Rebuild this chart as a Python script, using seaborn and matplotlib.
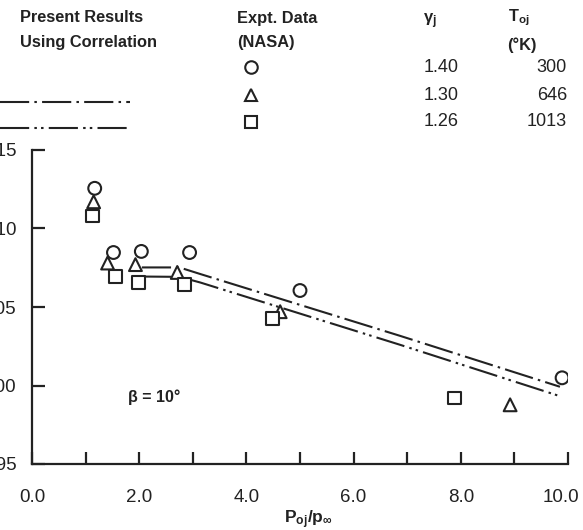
import matplotlib
matplotlib.use("Agg")
import matplotlib.pyplot as plt
from matplotlib.lines import Line2D
from matplotlib.transforms import ScaledTranslation
import seaborn as sns
import pandas as pd

# ---- data ----
circle_x = [1.17, 1.52, 2.04, 2.94, 5.00, 9.89]
circle_y = [1.1256, 1.0847, 1.0854, 1.0847, 1.0605, 1.0049]
tri_x = [1.15, 1.41, 1.93, 2.71, 4.63, 8.92]
tri_y = [1.1170, 1.0780, 1.0770, 1.0720, 1.0470, 0.9877]
sq_x = [1.13, 1.56, 1.99, 2.85, 4.48, 7.88]
sq_y = [1.1080, 1.0694, 1.0656, 1.0643, 1.0426, 0.9921]

upper_x = [2.05, 2.75, 3.14, 6.86, 9.85]
upper_y = [1.0752, 1.0752, 1.0710, 1.0317, 0.9992]
lower_x = [2.05, 2.75, 3.14, 6.86, 9.85]
lower_y = [1.0694, 1.0692, 1.0656, 1.0260, 0.9932]

gamma_vals = ["1.40", "1.30", "1.26"]
temp_vals = ["300", "646", "1013"]
x_ticks = [0, 1, 2, 3, 4, 5, 6, 7, 8, 9, 10]
x_ticklabels = ["0.0", "", "2.0", "", "4.0", "", "6.0", "", "8.0", "", "10.0"]
y_ticks = [0.95, 1.00, 1.05, 1.10, 1.15]
y_ticklabels = ["0.95", "1.00", "1.05", "1.10", "1.15"]

sns.set_style("ticks")
plt.rcParams["font.family"] = ["Liberation Sans", "DejaVu Sans"]
plt.rcParams["mathtext.fontset"] = "custom"
plt.rcParams["mathtext.rm"] = "Liberation Sans:bold"
plt.rcParams["mathtext.it"] = "Liberation Sans:bold"
plt.rcParams["mathtext.bf"] = "Liberation Sans:bold"

INK = "#222222"
W, H = 583, 530
fig = plt.figure(figsize=(W / 100, H / 100), dpi=100)
ax = fig.add_axes([32 / W, 66 / H, 536 / W, 314 / H])

df = pd.DataFrame({
    "x": circle_x + tri_x + sq_x,
    "y": circle_y + tri_y + sq_y,
    "gas": ["g140"] * len(circle_x) + ["g130"] * len(tri_x) + ["g126"] * len(sq_x),
})

lw = 1.5
dashdot = (0, (14, 2.5, 1.2, 2.5))
dashdotdot = (0, (14, 2.5, 1.2, 2.0, 1.2, 2.5))

sns.lineplot(x=upper_x, y=upper_y, ax=ax, color=INK, lw=lw,
             linestyle=dashdot, errorbar=None, sort=False, legend=False)
sns.lineplot(x=lower_x, y=lower_y, ax=ax, color=INK, lw=lw,
             linestyle=dashdotdot, errorbar=None, sort=False, legend=False)

sns.scatterplot(data=df, x="x", y="y", style="gas", ax=ax,
                markers={"g140": "o", "g130": "^", "g126": "s"},
                s=85, color="white", edgecolor=INK, linewidth=1.5,
                legend=False, zorder=5)

ax.set_xlim(0, 10)
ax.set_ylim(0.95, 1.15)
ax.set_xticks(x_ticks)
ax.set_xticklabels(x_ticklabels)
ax.set_yticks(y_ticks)
ax.set_yticklabels(y_ticklabels)
ax.set_xlabel("")
ax.set_ylabel("")
for s in ["top", "right"]:
    ax.spines[s].set_visible(False)
for s in ["left", "bottom"]:
    ax.spines[s].set_linewidth(1.6)
    ax.spines[s].set_color(INK)
ax.tick_params(axis="both", direction="in", length=9, width=1.6, color=INK,
               labelsize=13.5, labelcolor=INK)
ax.tick_params(axis="x", pad=18)
ax.tick_params(axis="y", pad=11)

# the last x label sits a little left of its tick in the reference
last = ax.get_xticklabels()[-1]
last.set_transform(last.get_transform() + ScaledTranslation(-7 / 100, 0, fig.dpi_scale_trans))

ax.text(1.80, 0.9928, "\u03b2 = 10\u00b0", fontsize=11.5, fontweight="bold",
        color=INK, va="center", ha="left")

fig.text(308 / W, 1 - 520 / H, r"$\mathrm{P_{oj}/p_{\infty}}$", fontsize=12.5,
         ha="center", va="center", color=INK)

# ---- header / key ----
def ftext(px, py, s, **kw):
    fig.text(px / W, 1 - py / H, s, color=INK, va="center", **kw)

ftext(20, 18, "Present Results", fontsize=11.8, fontweight="bold")
ftext(20, 42, "Using Correlation", fontsize=11.8, fontweight="bold")
ftext(237, 18, "Expt. Data", fontsize=11.8, fontweight="bold")
ftext(237, 42, "(NASA)", fontsize=11.8, fontweight="bold")
ftext(423, 21, r"$\gamma_j$", fontsize=12)
ftext(508, 18, r"T$_{oj}$", fontsize=11.8, fontweight="bold")
ftext(507, 45, "(\u00b0K)", fontsize=11.8, fontweight="bold")

rows_y = [67, 95, 122]
for gy, g, t in zip(rows_y, gamma_vals, temp_vals):
    ftext(424, gy, g, fontsize=13)
    ftext(567, gy, t, fontsize=13, ha="right")

for (mk, my) in zip(["o", "^", "s"], rows_y):
    fig.add_artist(Line2D([251 / W], [1 - my / H], marker=mk, markersize=9,
                          markerfacecolor="white", markeredgecolor=INK,
                          markeredgewidth=1.5, linestyle="none"))

fig.add_artist(Line2D([0, 130 / W], [1 - 102 / H] * 2, color=INK, lw=lw,
                      linestyle=dashdot))
fig.add_artist(Line2D([0, 130 / W], [1 - 128 / H] * 2, color=INK, lw=lw,
                      linestyle=dashdotdot))

fig.savefig("out.png", dpi=100)
